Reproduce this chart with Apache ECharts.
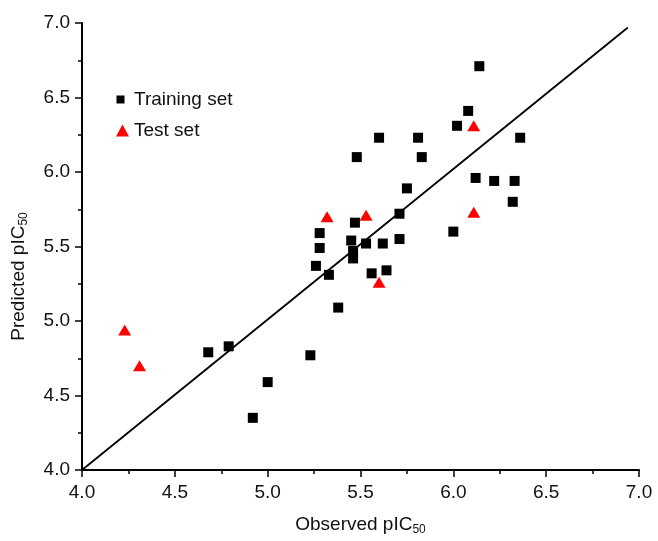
<!DOCTYPE html>
<html>
<head>
<meta charset="utf-8">
<script src="https://cdn.jsdelivr.net/npm/echarts@6/dist/echarts.min.js"></script>
<style>html,body{margin:0;padding:0;background:#fff}#c{width:658px;height:541px}</style>
</head>
<body>
<div id="c"></div>
<script>
var xTicks = [4.0, 4.5, 5.0, 5.5, 6.0, 6.5, 7.0];
var yTicks = [4.0, 4.5, 5.0, 5.5, 6.0, 6.5, 7.0];
var trainingSet = [
  [4.68, 4.79], [4.79, 4.83], [4.92, 4.35], [5.00, 4.59], [5.23, 4.77],
  [5.38, 5.09], [5.26, 5.37], [5.33, 5.31], [5.28, 5.49], [5.28, 5.59],
  [5.45, 5.54], [5.46, 5.47], [5.46, 5.42], [5.47, 5.66], [5.53, 5.52],
  [5.62, 5.52], [5.56, 5.32], [5.64, 5.34], [5.71, 5.55], [5.71, 5.72],
  [5.75, 5.89], [5.48, 6.10], [5.60, 6.23], [5.81, 6.23], [5.83, 6.10],
  [6.00, 5.60], [6.02, 6.31], [6.08, 6.41], [6.14, 6.71], [6.12, 5.96],
  [6.22, 5.94], [6.33, 5.94], [6.32, 5.80], [6.36, 6.23]
];
var testSet = [
  [4.23, 4.94], [4.31, 4.70], [5.32, 5.70], [5.53, 5.71], [5.60, 5.26],
  [6.11, 6.31], [6.11, 5.73]
];
var fitLine = [[4.0, 4.0], [6.94, 6.97]];

var FONT = 'Liberation Sans, Arial, Helvetica, sans-serif';
var chart = echarts.init(document.getElementById('c'));
function axisCommon(ticks) {
  return {
    type: 'value',
    min: ticks[0],
    max: ticks[ticks.length - 1],
    interval: ticks[1] - ticks[0],
    axisLine: { show: true, onZero: false, lineStyle: { color: '#000', width: 2 } },
    axisTick: { show: true, inside: false, length: 7, lineStyle: { color: '#000', width: 1.5 } },
    minorTick: { show: true, splitNumber: 2, length: 4, lineStyle: { color: '#000', width: 1.5 } },
    splitLine: { show: false },
    axisLabel: { color: '#111', fontSize: 19, fontFamily: FONT, formatter: function (v) { return v.toFixed(1); } }
  };
}
var subStyle = { sub: { fontSize: 12, fontFamily: FONT, color: '#111', padding: [10, 0, 0, 0] } };
var xAxis = axisCommon(xTicks);
xAxis.name = 'Observed pIC{sub|50}';
xAxis.nameLocation = 'middle';
xAxis.nameGap = 44;
xAxis.axisLabel.margin = 13;
xAxis.nameTextStyle = { color: '#111', fontSize: 19, fontFamily: FONT, rich: subStyle };
var yAxis = axisCommon(yTicks);
yAxis.name = 'Predicted pIC{sub|50}';
yAxis.nameLocation = 'middle';
yAxis.nameGap = 52;
yAxis.axisLabel.margin = 12;
yAxis.nameTextStyle = { color: '#111', fontSize: 19, fontFamily: FONT, rich: subStyle, padding: [0, 60, 0, 0] };

chart.setOption({
  animation: false,
  backgroundColor: '#fff',
  grid: { left: 82, right: 19, top: 23, bottom: 66, containLabel: false },
  legend: {
    orient: 'vertical', left: 111, top: 85, itemGap: 12, itemWidth: 13, itemHeight: 12,
    textStyle: { color: '#111', fontSize: 19, fontFamily: FONT },
    data: [
      { name: 'Training set', icon: 'path://M0,0M13,12M0.5,2L8.5,2L8.5,10L0.5,10Z' },
      { name: 'Test set', icon: 'triangle' }
    ]
  },
  xAxis: xAxis,
  yAxis: yAxis,
  series: [
    { name: 'fit', type: 'line', data: fitLine, symbol: 'none', silent: true,
      lineStyle: { color: '#000', width: 1.8 }, z: 1 },
    { name: 'Training set', type: 'scatter', data: trainingSet, symbol: 'rect', symbolSize: 10,
      itemStyle: { color: '#000', opacity: 1 }, z: 3 },
    { name: 'Test set', type: 'scatter', data: testSet, symbol: 'triangle', symbolSize: [13, 11],
      itemStyle: { color: '#ff0000', opacity: 1 }, z: 3 }
  ]
});
</script>
</body>
</html>
